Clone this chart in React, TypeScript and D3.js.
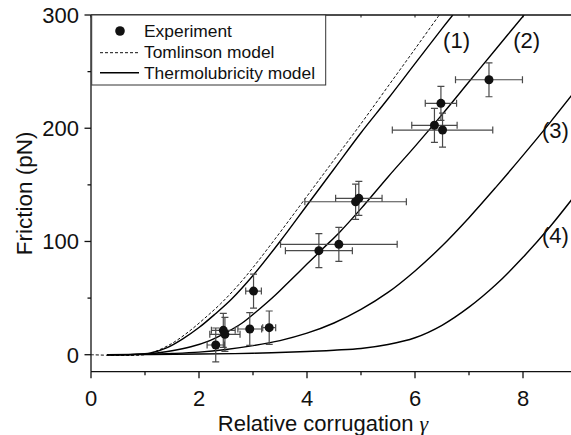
import React from "react";
import * as d3 from "d3";

const W = 571;
const H = 435;

// Experimental data: relative corrugation γ, friction (pN), errors
const expGamma = [2.31, 2.45, 2.48, 2.94, 3.30, 3.01, 4.22, 4.59, 4.90, 4.96, 6.36, 6.51, 6.48, 7.37];
const expF = [8.6, 21.5, 18, 22.7, 23.9, 56.2, 91.9, 97.5, 135.1, 138.1, 202.6, 198.4, 222, 242.8];
const expXErr = [0.16, 0.22, 0.28, 0.22, 0.12, 0.145, 0.62, 1.08, 0.94, 0.43, 0.42, 0.93, 0.29, 0.62];
const expYErr = [15, 15, 15, 14.5, 14.7, 15, 15, 15, 15.5, 15, 15, 15, 15, 15];

// Tomlinson model (dashed)
const tomGamma = [0, 1.0, 1.2, 1.5, 1.8, 2.1, 2.4, 2.7, 3.0, 3.5, 4.0, 4.5, 5.0, 5.5, 6.0, 6.45];
const tomF = [0, 0, 3, 10, 20, 32, 45, 60, 77, 108, 140, 172, 204, 237, 270, 300];

// Thermolubricity model curves (1)-(4)
const c1Gamma = [0.3, 0.8, 1.1, 1.4, 1.7, 2.0, 2.3, 2.6, 3.0, 3.5, 4.0, 4.5, 5.0, 5.5, 6.0, 6.5, 6.7];
const c1F = [0, 0.3, 1.5, 6, 14, 24, 36, 49, 70, 100, 132, 164, 196, 226, 257, 288, 300];

const c2Gamma = [0.3, 1.1, 1.5, 1.85, 2.2, 2.5, 2.8, 3.1, 3.4, 3.7, 4.0, 4.3, 4.6, 5.0, 5.5, 6.0, 6.5, 7.0, 7.5, 8.02];
const c2F = [0, 1, 3.5, 7, 12.5, 19.5, 28, 39.5, 52, 66, 80, 94, 108, 129, 157, 184, 212, 241, 270, 300];

const c3Gamma = [0.3, 1.1, 1.5, 2.0, 2.5, 3.0, 3.5, 4.0, 4.5, 5.0, 5.5, 6.0, 6.5, 7.0, 7.5, 8.0, 8.5, 9.0];
const c3F = [0, 0.5, 1.1, 2.3, 4.6, 8, 12.5, 19, 28, 40, 55, 74, 96, 121, 148, 176, 205, 235];

const c4Gamma = [0.3, 1.1, 2.0, 3.0, 4.0, 4.5, 5.0, 5.5, 6.0, 6.5, 7.0, 7.5, 8.0, 8.5, 9.0];
const c4F = [0, 0.2, 0.6, 1.3, 2.8, 4, 5.5, 9, 15, 26, 42, 62, 86, 113, 143];

const curveLabels = ["(1)", "(2)", "(3)", "(4)"];
const curveLabelGamma = [6.52, 7.82, 8.35, 8.35];
const curveLabelF = [271, 271, 191, 99];

const xMajor = [0, 2, 4, 6, 8];
const xMinor = [1, 3, 5, 7, 9];
const yMajor = [0, 100, 200, 300];
const yMinor = [50, 150, 250];

const legendLabels = ["Experiment", "Tomlinson model", "Thermolubricity model"];

const FONT = "'Liberation Sans', Arial, Helvetica, sans-serif";

export default function App() {
  const x = d3.scaleLinear().domain([0, 9]).range([91, 577]);
  const y = d3.scaleLinear().domain([-15, 300]).range([371.7, 15]);
  const x0 = x(0);
  const yBot = y(-15);
  const yTop = y(300);

  const line = d3
    .line<[number, number]>()
    .x((d) => x(d[0]))
    .y((d) => y(d[1]))
    .curve(d3.curveCatmullRom.alpha(0.5));

  const zip = (a: number[], b: number[]) => a.map((v, i) => [v, b[i]] as [number, number]);

  const curves = [zip(c4Gamma, c4F), zip(c3Gamma, c3F), zip(c2Gamma, c2F), zip(c1Gamma, c1F)];

  const cap = 3.5;
  const errColor = "#4a4a4a";

  return (
    <svg
      width={W}
      height={H}
      style={{ position: "absolute", left: 0, top: 0, background: "#fff" }}
      fontFamily={FONT}
    >
      <defs>
        <clipPath id="plotClip">
          <rect x={x0} y={yTop} width={W - x0} height={yBot - yTop} />
        </clipPath>
      </defs>
      <rect x={0} y={0} width={W} height={H} fill="#fff" />

      <g clipPath="url(#plotClip)">
        <path
          d={line(zip(tomGamma, tomF)) || ""}
          fill="none"
          stroke="#111"
          strokeWidth={1}
          strokeDasharray="3,2"
        />
        {curves.map((c, i) => (
          <path key={i} d={line(c) || ""} fill="none" stroke="#000" strokeWidth={1.4} />
        ))}

        {/* error bars */}
        {expGamma.map((g, i) => {
          const cx = x(g);
          const cy = y(expF[i]);
          const xl = x(g - expXErr[i]);
          const xr = x(g + expXErr[i]);
          const yt = y(expF[i] + expYErr[i]);
          const yb = y(expF[i] - expYErr[i]);
          return (
            <g key={i} stroke={errColor} strokeWidth={1.2}>
              <line x1={xl} x2={xr} y1={cy} y2={cy} />
              <line x1={xl} x2={xl} y1={cy - cap} y2={cy + cap} />
              <line x1={xr} x2={xr} y1={cy - cap} y2={cy + cap} />
              <line x1={cx} x2={cx} y1={yt} y2={yb} />
              <line x1={cx - cap} x2={cx + cap} y1={yt} y2={yt} />
              <line x1={cx - cap} x2={cx + cap} y1={yb} y2={yb} />
            </g>
          );
        })}
        {expGamma.map((g, i) => (
          <circle key={i} cx={x(g)} cy={y(expF[i])} r={4.5} fill="#111" />
        ))}
      </g>

      {/* curve labels */}
      {curveLabels.map((t, i) => (
        <text key={t} x={x(curveLabelGamma[i])} y={y(curveLabelF[i])} fontSize={22} fill="#111">
          {t}
        </text>
      ))}

      {/* axes */}
      <g stroke="#111" strokeWidth={1.3}>
        <line x1={x0} x2={x0} y1={yTop} y2={yBot} />
        <line x1={x0} x2={W} y1={yBot} y2={yBot} />
        <line x1={x0} x2={W} y1={yTop} y2={yTop} />
        {xMajor.map((v) => (
          <line key={"xM" + v} x1={x(v)} x2={x(v)} y1={yBot} y2={yBot + 6.5} />
        ))}
        {xMinor.map((v) => (
          <line key={"xm" + v} x1={x(v)} x2={x(v)} y1={yBot} y2={yBot + 3.5} />
        ))}
        {xMajor.concat(xMinor).map((v) => (
          <line key={"xt" + v} x1={x(v)} x2={x(v)} y1={yTop} y2={yTop + 2.5} strokeWidth={1} />
        ))}
        {yMajor.map((v) => (
          <line key={"yM" + v} x1={x0 - 6.5} x2={x0} y1={y(v)} y2={y(v)} />
        ))}
        {yMinor.map((v) => (
          <line key={"ym" + v} x1={x0 - 3.5} x2={x0} y1={y(v)} y2={y(v)} />
        ))}
      </g>

      {xMajor.map((v) => (
        <text key={"xl" + v} x={x(v)} y={yBot + 34} fontSize={22} textAnchor="middle" fill="#111">
          {v}
        </text>
      ))}
      {yMajor.map((v) => (
        <text
          key={"yl" + v}
          x={x0 - 12}
          y={y(v)}
          dy="0.36em"
          fontSize={22}
          textAnchor="end"
          fill="#111"
        >
          {v}
        </text>
      ))}

      <text x={323} y={431} fontSize={22} textAnchor="middle" fill="#111">
        Relative corrugation{" "}
        <tspan fontFamily="'Liberation Serif', 'DejaVu Serif', serif" fontStyle="italic">
          γ
        </tspan>
      </text>
      <text
        transform={`translate(32, ${(yTop + yBot) / 2}) rotate(-90)`}
        fontSize={22.5}
        textAnchor="middle"
        fill="#111"
      >
        Friction (pN)
      </text>

      {/* legend */}
      <g>
        <rect x={91.7} y={yTop} width={234} height={70} fill="#fff" stroke="#333" strokeWidth={1} />
        <circle cx={120} cy={31} r={4.8} fill="#111" />
        <line x1={100} x2={139} y1={52.7} y2={52.7} stroke="#111" strokeWidth={1} strokeDasharray="3,2" />
        <line x1={100} x2={139} y1={72.7} y2={72.7} stroke="#000" strokeWidth={1.4} />
        {legendLabels.map((t, i) => (
          <text key={t} x={144} y={31 + i * 20.85} dy="0.36em" fontSize={17.4} fill="#111">
            {t}
          </text>
        ))}
      </g>
    </svg>
  );
}
